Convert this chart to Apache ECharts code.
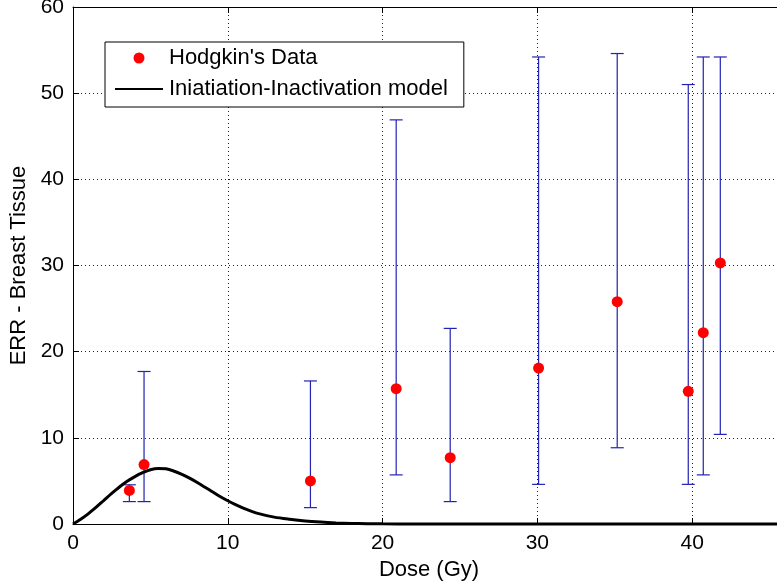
<!DOCTYPE html>
<html>
<head>
<meta charset="utf-8">
<script src="https://cdn.jsdelivr.net/npm/echarts@6/dist/echarts.min.js"></script>
<style>html,body{margin:0;padding:0;background:#fff;}#c{width:777px;height:588px;}</style>
</head>
<body>
<div id="c"></div>
<script>
// Hodgkin's data points (dose in Gy, ERR) with error bar bounds
const dose    = [3.64, 4.59, 15.34, 20.88, 24.37, 30.08, 35.16, 39.75, 40.72, 41.82];
const errVal  = [3.9, 6.9, 5.0, 15.7, 7.7, 18.1, 25.8, 15.4, 22.2, 30.3];
const errLow  = [2.6, 2.6, 1.9, 5.7, 2.6, 4.6, 8.85, 4.6, 5.7, 10.4];
const errHigh = [4.55, 17.7, 16.6, 46.9, 22.7, 54.2, 54.6, 51.0, 54.2, 54.2];

// Initiation-Inactivation model curve
const modelDose = [0,0.5,1,1.5,2,2.5,3,3.5,4,4.5,5,5.5,6,6.5,7,7.5,8,8.5,9,9.5,10,10.5,11,11.5,12,13,14,15,16,17,18,19,20,22,25,30,35,40,46];
const modelErr  = [0,0.55,1.2,1.95,2.75,3.55,4.3,4.95,5.5,5.95,6.3,6.45,6.4,6.15,5.8,5.35,4.85,4.3,3.75,3.2,2.7,2.25,1.85,1.5,1.2,0.8,0.55,0.35,0.22,0.13,0.07,0.04,0.02,0.01,0,0,0,0,0];

const xTicks = [0, 10, 20, 30, 40];
const yTicks = [0, 10, 20, 30, 40, 50, 60];

const legendNames = ["Hodgkin's Data", "Iniatiation-Inactivation model"];
const xName = 'Dose (Gy)';
const yName = 'ERR - Breast Tissue';

const FONT = 'Liberation Sans, Arial, sans-serif';
const chart = echarts.init(document.getElementById('c'), null, {renderer: 'canvas'});

const dotted = {type: [1, 3], color: '#222', width: 1};

chart.setOption({
  animation: false,
  backgroundColor: '#fff',
  grid: {left: 73, top: 7, width: 712, height: 517, containLabel: false, outerBoundsMode: 'none'},
  legend: {
    data: [
      {name: legendNames[0], icon: 'circle'},
      {name: legendNames[1], icon: 'path://M0,0 L48,0 L48,2 L0,2 Z'}
    ],
    orient: 'vertical',
    left: 105, top: 42,
    padding: [5, 16, 7, 10],
    itemGap: 9,
    itemWidth: 48, itemHeight: 11,
    borderColor: '#000', borderWidth: 1,
    backgroundColor: '#fff',
    selectedMode: false,
    textStyle: {fontFamily: FONT, fontSize: 22, color: '#000', lineHeight: 22, padding: [0, 0, 0, 1]}
  },
  xAxis: [{
    type: 'value', min: 0, max: 46, interval: 10,
    name: xName, nameLocation: 'middle', nameGap: 31,
    nameTextStyle: {fontFamily: FONT, fontSize: 22, color: '#000'},
    axisLine: {show: true, lineStyle: {color: '#000', width: 1}},
    axisTick: {show: true, inside: true, length: 6, lineStyle: {color: '#000'}},
    axisLabel: {fontFamily: FONT, fontSize: 21, color: '#000', margin: 9,
      formatter: v => (xTicks.indexOf(v) >= 0 ? String(v) : '')},
    splitLine: {show: true, lineStyle: dotted}
  }, {
    type: 'value', min: 0, max: 46, interval: 10, position: 'top',
    axisLine: {show: true, onZero: false, lineStyle: {color: '#000', width: 1}},
    axisTick: {show: true, inside: true, length: 6, lineStyle: {color: '#000'}},
    axisLabel: {show: false},
    splitLine: {show: false}
  }],
  yAxis: [{
    type: 'value', min: 0, max: 60, interval: 10,
    name: yName, nameLocation: 'middle', nameGap: 42,
    nameTextStyle: {fontFamily: FONT, fontSize: 22, color: '#000'},
    axisLine: {show: true, lineStyle: {color: '#000', width: 1}},
    axisTick: {show: true, inside: true, length: 6, lineStyle: {color: '#000'}},
    axisLabel: {fontFamily: FONT, fontSize: 21, color: '#000', margin: 9,
      formatter: v => (yTicks.indexOf(v) >= 0 ? String(v) : '')},
    splitLine: {show: true, lineStyle: dotted}
  }],
  series: [
    {
      type: 'custom',
      name: 'errorbars',
      xAxisIndex: 0, yAxisIndex: 0,
      data: dose.map((d, i) => [d, errLow[i], errHigh[i]]),
      encode: {x: 0, y: [1, 2]},
      z: 3,
      renderItem: function (params, api) {
        const x = api.value(0);
        const lo = api.coord([x, api.value(1)]);
        const hi = api.coord([x, api.value(2)]);
        const hw = 6.5;
        const st = {stroke: '#2222b4', lineWidth: 1.2};
        return {
          type: 'group',
          children: [
            {type: 'line', shape: {x1: lo[0], y1: lo[1], x2: hi[0], y2: hi[1]}, style: st},
            {type: 'line', shape: {x1: lo[0] - hw, y1: lo[1], x2: lo[0] + hw, y2: lo[1]}, style: st},
            {type: 'line', shape: {x1: hi[0] - hw, y1: hi[1], x2: hi[0] + hw, y2: hi[1]}, style: st}
          ]
        };
      }
    },
    {
      type: 'line',
      name: legendNames[1],
      data: modelDose.map((d, i) => [d, modelErr[i]]),
      smooth: 0.3,
      symbol: 'none',
      clip: false,
      z: 4,
      lineStyle: {color: '#000', width: 3},
      itemStyle: {color: '#000'}
    },
    {
      type: 'scatter',
      name: legendNames[0],
      data: dose.map((d, i) => [d, errVal[i]]),
      symbol: 'circle',
      symbolSize: 11,
      z: 5,
      itemStyle: {color: '#ff0000', opacity: 1}
    }
  ]
});
</script>
</body>
</html>
